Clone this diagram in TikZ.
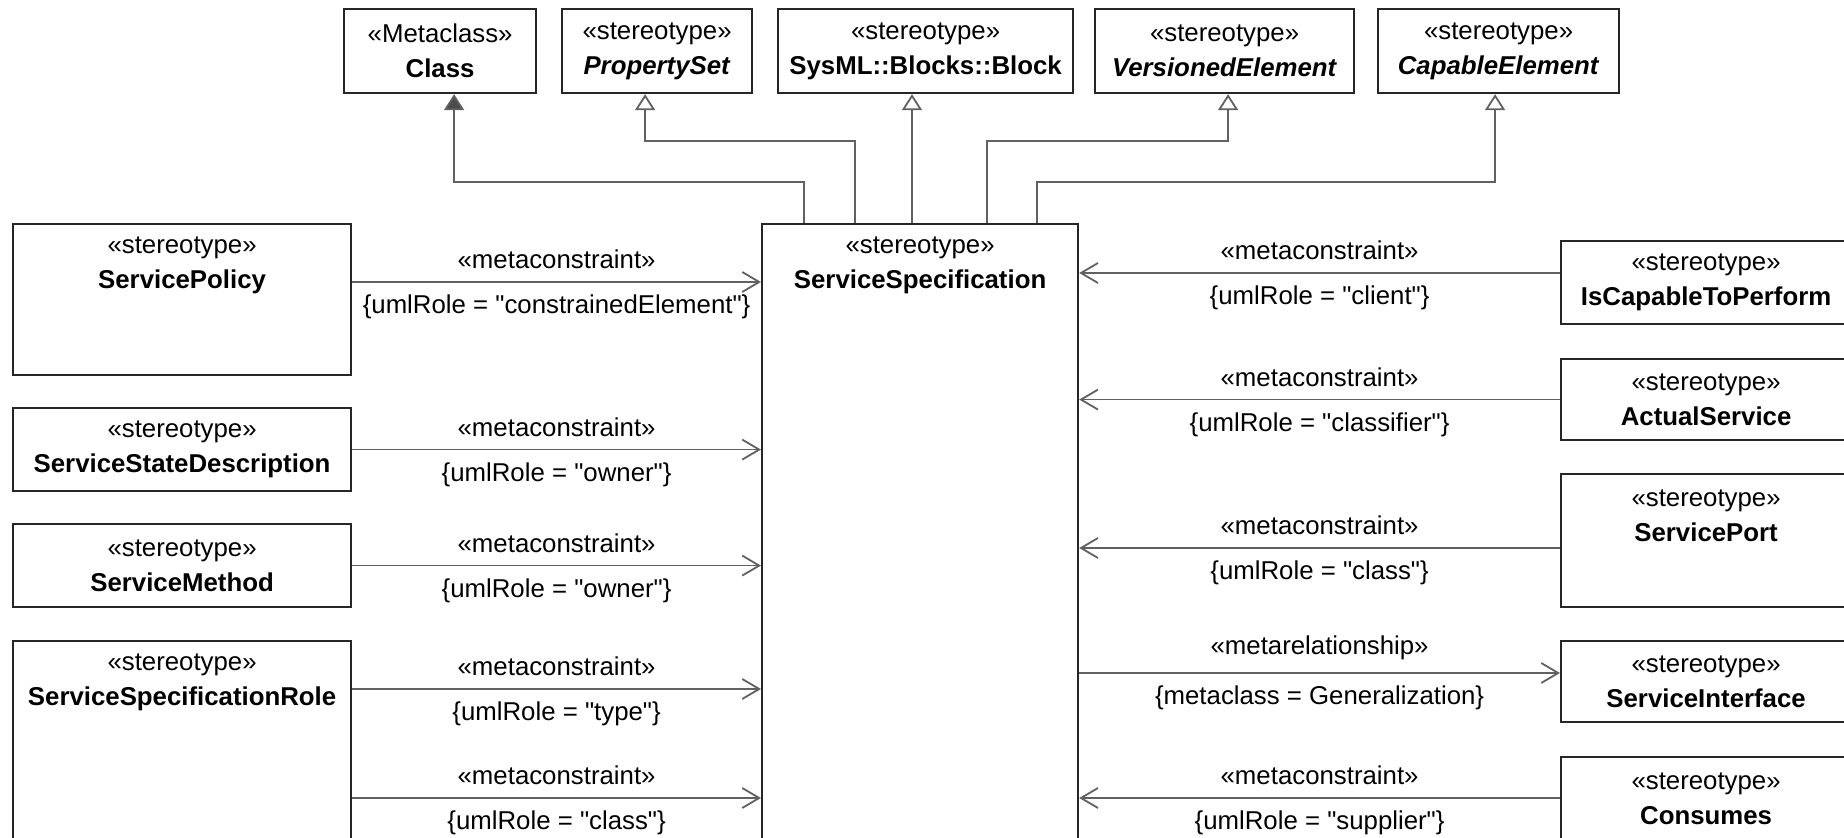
\documentclass[tikz,border=0pt]{standalone}
\usepackage{fontspec}
\setmainfont{Liberation Sans}[Ligatures=TeXOff]
\usetikzlibrary{arrows.meta}
\usetikzlibrary{positioning}
\tikzset{bx/.style={draw=black!85, line width=1.1pt, fill=white, anchor=north west, inner sep=0pt, minimum height=42pt, align=center, font=\fontsize{12.9}{17.5}\selectfont}}
\tikzset{hd/.style={inner sep=0pt, minimum height=42pt, align=center, font=\fontsize{12.9}{17.5}\selectfont}}
\tikzset{l/.style={inner sep=0pt, font=\fontsize{12.9}{14}\selectfont}}
\tikzset{ln/.style={draw=black!62, line width=0.9pt}}
\tikzset{gen/.style={ln, -{Triangle[open, length=8pt, width=10pt]}}}
\tikzset{real/.style={ln, -{Triangle[length=8pt, width=10pt, fill=black!70]}}}
\tikzset{dep/.style={ln, -{Straight Barb[length=8.5pt, width=10pt]}}}

\begin{document}
\begin{tikzpicture}[x=0.5pt, y=-0.5pt]
  \useasboundingbox (0,0) rectangle (1844,838);
  % top row
  \node[bx, minimum width=96pt] (Cl) at (343,8) {«Metaclass»\\\textbf{Class}};
  \node[bx, minimum width=95pt] (PS) at (561,8) {«stereotype»\\\textbf{\textit{PropertySet}}};
  \node[bx, minimum width=147.5pt] (Bl) at (777,8) {«stereotype»\\\textbf{SysML::Blocks::Block}};
  \node[bx, minimum width=129.5pt] (VE) at (1094,8) {«stereotype»\\\textbf{\textit{VersionedElement}}};
  \node[bx, minimum width=120.5pt] (CE) at (1377,8) {«stereotype»\\\textbf{\textit{CapableElement}}};
  % centre
  \node[bx, minimum width=158pt, minimum height=339pt] (Spec) at (761,223) {};
  \node[hd, below=0pt of Spec.north] (Spect) {«stereotype»\\\textbf{ServiceSpecification}};
  % left column
  \node[bx, minimum width=169pt, minimum height=75.5pt] (SP) at (12,223) {};
  \node[hd, below=0pt of SP.north] (SPt) {«stereotype»\\\textbf{ServicePolicy}};
  \node[bx, minimum width=169pt, minimum height=41.5pt] (SSD) at (12,407) {«stereotype»\\\textbf{ServiceStateDescription}};
  \node[bx, minimum width=169pt, minimum height=41.5pt] (SM) at (12,523) {«stereotype»\\\textbf{ServiceMethod}};
  \node[bx, minimum width=169pt, minimum height=130pt] (SSR) at (12,640) {};
  \node[hd, below=0pt of SSR.north] (SSRt) {«stereotype»\\\textbf{ServiceSpecificationRole}};
  % right column
  \node[bx, minimum width=145pt, minimum height=41.5pt] (ICP) at (1560,240) {«stereotype»\\\textbf{IsCapableToPerform}};
  \node[bx, minimum width=145pt, minimum height=40.5pt] (AS) at (1560,358) {«stereotype»\\\textbf{ActualService}};
  \node[bx, minimum width=145pt, minimum height=66.5pt] (Port) at (1560,473) {};
  \node[hd, below=0pt of Port.north] (Portt) {«stereotype»\\\textbf{ServicePort}};
  \node[bx, minimum width=145pt, minimum height=40.5pt] (SI) at (1560,640) {«stereotype»\\\textbf{ServiceInterface}};
  \node[bx, minimum width=145pt, minimum height=42pt] (Con) at (1560,756) {«stereotype»\\\textbf{Consumes}};

  % generalizations
  \coordinate (t1) at ([xshift=21.5pt]Spec.north west);
  \coordinate (t2) at ([xshift=47pt]Spec.north west);
  \coordinate (t3) at ([xshift=75.5pt]Spec.north west);
  \coordinate (t4) at ([xshift=113pt]Spec.north west);
  \coordinate (t5) at ([xshift=138pt]Spec.north west);
  \draw[real] (t1) -- ++(0,-41) -| ([xshift=7pt]Cl.south);
  \draw[gen] (t2) -- ++(0,-82) -| ([xshift=-6pt]PS.south);
  \draw[gen] (t3) -- (t3 |- Bl.south);
  \draw[gen] (t4) -- ++(0,-82) -| ([xshift=1.75pt]VE.south);
  \draw[gen] (t5) -- ++(0,-41) -| ([xshift=-1.75pt]CE.south);

  % left metaconstraints
  \coordinate (l1) at ([yshift=-29.5pt]SP.north east);
  \coordinate (l4) at ([yshift=-24.5pt]SSR.north east);
  \coordinate (l5) at ([yshift=-79pt]SSR.north east);
  \draw[dep] (l1) -- node[l, above=6pt] {«metaconstraint»} node[l, below=6pt] {\{umlRole = "constrainedElement"\}} (l1 -| Spec.west);
  \draw[dep] (SSD.east) -- node[l, above=6pt] {«metaconstraint»} node[l, below=6pt] {\{umlRole = "owner"\}} (SSD.east -| Spec.west);
  \draw[dep] (SM.east) -- node[l, above=6pt] {«metaconstraint»} node[l, below=6pt] {\{umlRole = "owner"\}} (SM.east -| Spec.west);
  \draw[dep] (l4) -- node[l, above=6pt] {«metaconstraint»} node[l, below=6pt] {\{umlRole = "type"\}} (l4 -| Spec.west);
  \draw[dep] (l5) -- node[l, above=6pt] {«metaconstraint»} node[l, below=6pt] {\{umlRole = "class"\}} (l5 -| Spec.west);

  % right metaconstraints
  \coordinate (r1) at ([yshift=-16.5pt]ICP.north west);
  \coordinate (r3) at ([yshift=-37.5pt]Port.north west);
  \coordinate (r4) at ([yshift=-16.5pt]SI.north west);
  \coordinate (r5) at ([yshift=-21pt]Con.north west);
  \draw[dep] (r1) -- node[l, above=6pt] {«metaconstraint»} node[l, below=6pt] {\{umlRole = "client"\}} (r1 -| Spec.east);
  \draw[dep] (AS.west) -- node[l, above=6pt] {«metaconstraint»} node[l, below=6pt] {\{umlRole = "classifier"\}} (AS.west -| Spec.east);
  \draw[dep] (r3) -- node[l, above=6pt] {«metaconstraint»} node[l, below=6pt] {\{umlRole = "class"\}} (r3 -| Spec.east);
  \draw[dep] (r4 -| Spec.east) -- node[l, above=6pt] {«metarelationship»} node[l, below=6pt] {\{metaclass = Generalization\}} (r4);
  \draw[dep] (r5) -- node[l, above=6pt] {«metaconstraint»} node[l, below=6pt] {\{umlRole = "supplier"\}} (r5 -| Spec.east);
\end{tikzpicture}
\end{document}
